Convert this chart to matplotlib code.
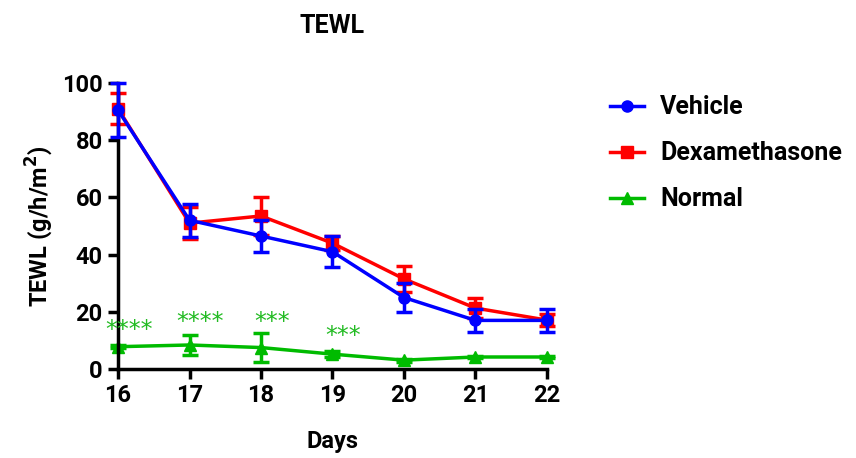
import matplotlib
matplotlib.use("Agg")
import matplotlib.pyplot as plt
from matplotlib.lines import Line2D

plt.rcParams['font.family'] = ['Roboto', 'DejaVu Sans']
W = 'bold'

days = [16, 17, 18, 19, 20, 21, 22]
vehicle = [90.5, 52.0, 46.5, 41.0, 25.0, 17.0, 17.0]
vehicle_err = [9.5, 5.8, 5.5, 5.5, 5.0, 4.0, 4.0]
dexa = [91.0, 51.0, 53.5, 44.0, 31.5, 21.3, 17.1]
dexa_err = [5.5, 5.5, 6.5, 2.5, 4.5, 3.5, 2.0]
normal = [7.8, 8.4, 7.5, 5.2, 3.1, 4.2, 4.2]
normal_err = [0.5, 3.5, 5.0, 1.0, 0.5, 0.5, 0.5]

star_days = [16, 17, 18, 19]
star_labels = ['****', '****', '***', '***']
star_heights = [13.6, 16.4, 16.4, 11.5]

fig = plt.figure(figsize=(8.56, 4.58), dpi=100)
ax = fig.add_axes([0.1379, 0.1943, 0.501, 0.6245])

series = [
    ('Vehicle', vehicle, vehicle_err, '#0000ff', 'o', 3),
    ('Dexamethasone', dexa, dexa_err, '#ff0000', 's', 2),
    ('Normal', normal, normal_err, '#00bb00', '^', 1),
]
handles = []
for name, vals, errs, col, mk, z in series:
    eb = ax.errorbar(days, vals, yerr=errs, color=col, marker=mk, markersize=8,
                     linewidth=2.5, elinewidth=2.5, capsize=6, capthick=2.5,
                     zorder=z, clip_on=False)
    for art in eb.lines[1] + eb.lines[2]:
        art.set_clip_on(False)
    eb.lines[0].set_clip_on(False)
    handles.append(Line2D([], [], color=col, marker=mk, markersize=8, linewidth=2.5, label=name))

for d, lab, h in zip(star_days, star_labels, star_heights):
    ax.text(d + 0.15, h, lab, color='#22bb22', fontsize=17, ha='center', va='center',
            family='DejaVu Sans')

ax.set_xlim(16, 22)
ax.set_ylim(0, 100)
ax.set_xticks(days)
ax.set_yticks([0, 20, 40, 60, 80, 100])
for s in ['top', 'right']:
    ax.spines[s].set_visible(False)
for s in ['left', 'bottom']:
    ax.spines[s].set_linewidth(2.5)
ax.tick_params(axis='both', direction='out', length=7, width=2.5, labelsize=17, pad=4)
for lbl in ax.get_xticklabels() + ax.get_yticklabels():
    lbl.set_fontweight(W)

ax.set_title('TEWL', fontsize=18, fontweight=W, pad=36)
ax.set_xlabel('Days', fontsize=17, fontweight=W, labelpad=16)
ax.set_ylabel('TEWL (g/h/m$\\mathbf{^2}$)', fontsize=17, fontweight=W, labelpad=5)

fig.legend(handles=handles, loc='upper left', bbox_to_anchor=(0.713, 0.792), frameon=False,
           handlelength=1.35, labelspacing=0.88, handletextpad=0.65,
           borderpad=0, borderaxespad=0,
           prop={'weight': W, 'size': 18})

fig.savefig('out.png', dpi=100)
